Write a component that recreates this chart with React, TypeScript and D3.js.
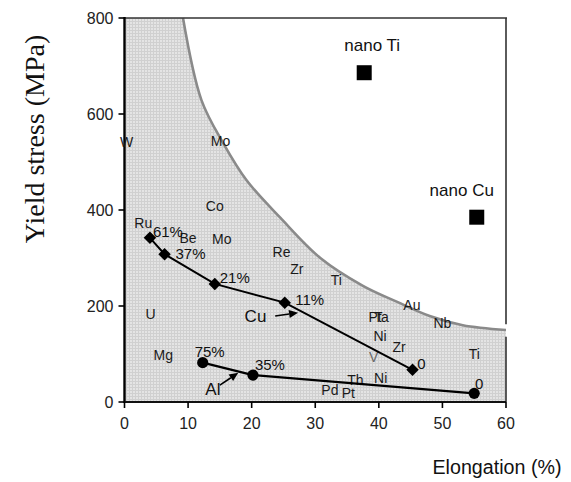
import React from "react";
import * as d3 from "d3";

// Boundary of conventional metals (grey region)
const boundaryElong = [9.2, 12.1, 15.5, 19.2, 24.5, 30.8, 37.5, 42.8, 48.0, 53.2, 60];
const boundaryStress = [800, 629, 540, 462, 384, 300, 242, 209, 179, 160, 150];

// Cu series (diamonds)
const cuElong = [4.0, 6.3, 14.2, 25.2, 45.3];
const cuStress = [342, 308, 246, 207, 67];
const cuLabels = ["61%", "37%", "21%", "11%", "0"];

// Al series (circles)
const alElong = [12.3, 20.2, 55.0];
const alStress = [82, 56, 18];
const alLabels = ["75%", "35%", "0"];

// Nano materials (squares)
const nanoNames = ["nano Ti", "nano Cu"];
const nanoElong = [37.7, 55.4];
const nanoStress = [686, 385];

// Element labels in the grey region
const elemNames = ["W", "Mo", "Co", "Mo", "Be", "Ru", "U", "Re", "Zr", "Ti", "Au", "Pt", "Ta", "Nb", "Ni", "Zr", "V", "Ni", "Th", "Pd", "Pt", "Ti", "Mg"];
const elemElong = [0.35, 15.1, 14.2, 15.3, 10.0, 2.96, 4.1, 24.7, 27.1, 33.3, 45.2, 39.4, 40.4, 50.0, 40.2, 43.2, 39.2, 40.3, 36.3, 32.3, 35.2, 55.0, 6.1];
const elemStress = [542, 544, 408, 339, 341, 372, 183, 313, 278, 254, 202, 177, 177, 164, 138, 115, 93, 51, 46, 25, 18, 100, 98];

const xTicks = [0, 10, 20, 30, 40, 50, 60];
const yTicks = [0, 200, 400, 600, 800];

// layout (pixel offsets for point labels)
const cuLabelOffsets = [[18, -6], [26, -1], [20, -6], [25, -3], [9, -6]];
const alLabelOffsets = [[7, -11], [17, -11], [5, -10]];

const W = 571, H = 482;
const x = d3.scaleLinear().domain([0, 60]).range([124.5, 506]);
const y = d3.scaleLinear().domain([0, 800]).range([402, 18]);

const SANS = "'Liberation Sans', Arial, sans-serif";

export default function App() {
  const bPts: [number, number][] = boundaryElong.map((e, i) => [x(e), y(boundaryStress[i])]);
  const lineGen = d3.line().curve(d3.curveCatmullRom.alpha(0.5));
  const curvePath = lineGen(bPts) as string;
  const areaPath = `M${x(0)},${y(0)}V${y(800)}` + curvePath.replace(/^M/, "L") + `V${y(0)}Z`;

  const straight = d3.line();
  const cuPts: [number, number][] = cuElong.map((e, i) => [x(e), y(cuStress[i])]);
  const alPts: [number, number][] = alElong.map((e, i) => [x(e), y(alStress[i])]);
  const diamond = d3.symbol(d3.symbolSquare, 78)() as string;

  const arrow = (x1: number, y1: number, x2: number, y2: number) => {
    const ang = Math.atan2(y2 - y1, x2 - x1);
    const L = 9, Wd = 4;
    const bx = x2 - L * Math.cos(ang), by = y2 - L * Math.sin(ang);
    const px = -Math.sin(ang) * Wd, py = Math.cos(ang) * Wd;
    return (
      <g>
        <line x1={x1} y1={y1} x2={bx} y2={by} stroke="#000" strokeWidth={1.6} />
        <path d={`M${x2},${y2}L${bx + px},${by + py}L${bx - px},${by - py}Z`} fill="#000" />
      </g>
    );
  };

  return (
    <svg width={W} height={H} style={{ position: "absolute", left: 0, top: 0, background: "#fff" }}>
      <defs>
        <pattern id="grid" width={3} height={3} patternUnits="userSpaceOnUse">
          <rect width={3} height={3} fill="#e4e4e4" />
          <rect width={3} height={1} fill="#d0d0d0" />
          <rect width={1} height={3} fill="#d0d0d0" />
        </pattern>
      </defs>

      <path d={areaPath} fill="url(#grid)" />
      <path d={curvePath} fill="none" stroke="#8a8a8a" strokeWidth={2.6} />

      {/* frame */}
      <line x1={x(0)} y1={y(800)} x2={x(60) + 1} y2={y(800)} stroke="#333" strokeWidth={1.6} />
      <line x1={x(60)} y1={y(800)} x2={x(60)} y2={y(162)} stroke="#333" strokeWidth={1.6} />
      <line x1={x(60)} y1={y(136)} x2={x(60)} y2={y(0)} stroke="#333" strokeWidth={1.6} />
      <line x1={x(0)} y1={y(800) - 1} x2={x(0)} y2={y(0) + 1} stroke="#000" strokeWidth={2.4} />
      <line x1={x(0)} y1={y(0)} x2={x(60)} y2={y(0)} stroke="#111" strokeWidth={1.8} />

      {/* ticks */}
      {yTicks.map((t) => (
        <g key={"y" + t}>
          <line x1={x(0) - 6} x2={x(0)} y1={y(t)} y2={y(t)} stroke="#000" strokeWidth={1.6} />
          <text x={x(0) - 11} y={y(t)} textAnchor="end" dominantBaseline="central" fontFamily={SANS} fontSize={16} fill="#222">{t}</text>
        </g>
      ))}
      {xTicks.map((t) => (
        <g key={"x" + t}>
          <line x1={x(t)} x2={x(t)} y1={y(0)} y2={y(0) + 6} stroke="#000" strokeWidth={1.6} />
          <text x={x(t)} y={y(0) + 21} textAnchor="middle" dominantBaseline="central" fontFamily={SANS} fontSize={16} fill="#222">{t}</text>
        </g>
      ))}

      {/* element labels */}
      {elemNames.map((n, i) => (
        <text key={"e" + i} x={x(elemElong[i])} y={y(elemStress[i])} textAnchor="middle" dominantBaseline="central"
          fontFamily={SANS} fontSize={14} fill={n === "V" ? "#6a6a6a" : "#1a1a1a"}>{n}</text>
      ))}

      {/* series lines */}
      <path d={straight(cuPts) as string} fill="none" stroke="#000" strokeWidth={2} />
      <path d={straight(alPts) as string} fill="none" stroke="#000" strokeWidth={2.2} />

      {cuPts.map((p, i) => (
        <path key={"cd" + i} d={diamond} transform={`translate(${p[0]},${p[1]}) rotate(45)`} fill="#000" />
      ))}
      {alPts.map((p, i) => (
        <circle key={"ac" + i} cx={p[0]} cy={p[1]} r={5.6} fill="#000" />
      ))}

      {cuPts.map((p, i) => (
        <text key={"cl" + i} x={p[0] + cuLabelOffsets[i][0]} y={p[1] + cuLabelOffsets[i][1]} textAnchor="middle" dominantBaseline="central"
          fontFamily={SANS} fontSize={15} fill="#111">{cuLabels[i]}</text>
      ))}
      {alPts.map((p, i) => (
        <text key={"al" + i} x={p[0] + alLabelOffsets[i][0]} y={p[1] + alLabelOffsets[i][1]} textAnchor="middle" dominantBaseline="central"
          fontFamily={SANS} fontSize={15} fill="#111">{alLabels[i]}</text>
      ))}

      {/* Cu / Al annotations */}
      <text x={x(20.6)} y={y(179)} textAnchor="middle" dominantBaseline="central" fontFamily={SANS} fontSize={17} fill="#111">Cu</text>
      {arrow(x(23.7), y(179), x(27.3), y(186))}
      <text x={x(13.9)} y={y(26)} textAnchor="middle" dominantBaseline="central" fontFamily={SANS} fontSize={17} fill="#111">Al</text>
      {arrow(x(15.0), y(35), x(17.9), y(61))}

      {/* nano squares */}
      {nanoNames.map((n, i) => (
        <g key={"n" + i}>
          <rect x={x(nanoElong[i]) - 7.5} y={y(nanoStress[i]) - 7.5} width={15} height={15} fill="#000" />
          <text x={x(nanoElong[i]) + (i === 0 ? 8 : -15)} y={y(nanoStress[i]) - 27} textAnchor="middle" dominantBaseline="central"
            fontFamily={SANS} fontSize={17} fill="#111">{n}</text>
        </g>
      ))}

      {/* axis titles */}
      <text transform={`translate(34,139) rotate(-90)`} textAnchor="middle" dominantBaseline="central"
        fontFamily="'Liberation Serif', 'Times New Roman', serif" fontSize={28} fill="#111">Yield stress (MPa)</text>
      <text x={497} y={467} textAnchor="middle" dominantBaseline="central" fontFamily={SANS} fontSize={20}
        textLength={129} lengthAdjust="spacingAndGlyphs" fill="#111">Elongation (%)</text>
    </svg>
  );
}
